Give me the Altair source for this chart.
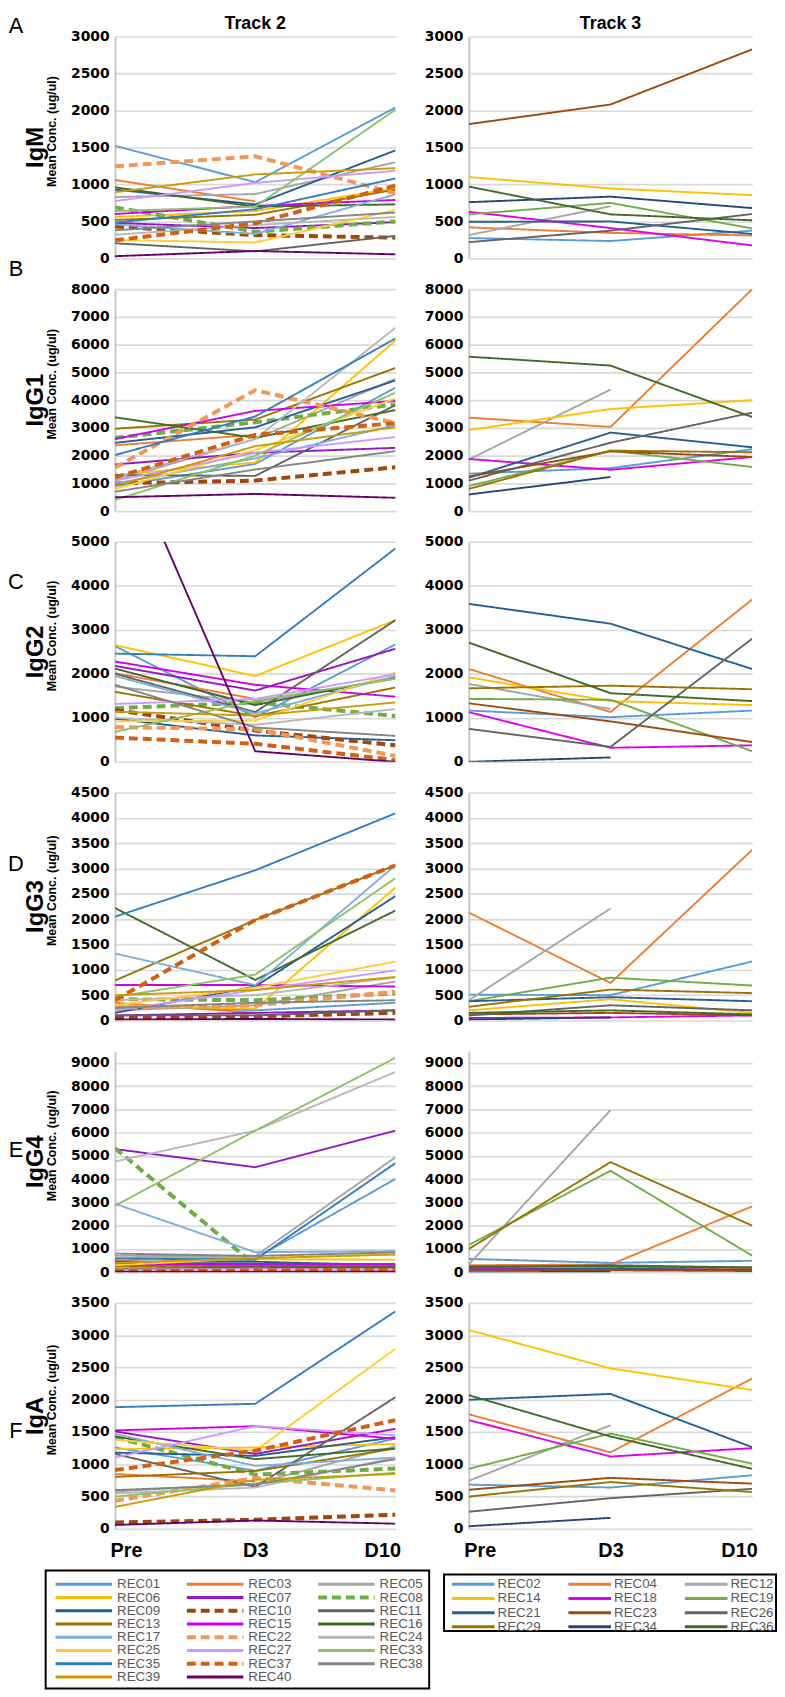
import json
import altair as alt
import pandas as pd

TIMEPOINTS = ["Pre", "D3", "D10"]

TRACK2_IDS = ["REC01", "REC03", "REC05", "REC06", "REC07", "REC08", "REC09", "REC10",
              "REC11", "REC13", "REC15", "REC16", "REC17", "REC22", "REC24", "REC25",
              "REC27", "REC33", "REC35", "REC37", "REC38", "REC39", "REC40"]
TRACK2_COLORS = ["#5B9BD5", "#ED7D31", "#A5A5A5", "#FFC000", "#9412C8", "#70AD47", "#255E91", "#9E480E",
                 "#636363", "#997300", "#CC00EE", "#43682B", "#7CAFDD", "#F1975A", "#B7B7B7", "#FFCD33",
                 "#CC99FF", "#8CC168", "#327DC2", "#D26012", "#848484", "#CC9A06", "#660066"]
TRACK3_IDS = ["REC02", "REC04", "REC12", "REC14", "REC18", "REC19",
              "REC21", "REC23", "REC26", "REC29", "REC34", "REC36"]
TRACK3_COLORS = ["#5B9BD5", "#ED7D31", "#A5A5A5", "#FFC000", "#DD00EE", "#70AD47",
                 "#255E91", "#9E480E", "#636363", "#997300", "#264478", "#43682B"]
DASHED_IDS = ["REC08", "REC10", "REC22", "REC37"]

# values: [Pre, D3, D10]
IGM_T2 = {
    "REC01": [1520, 1030, 2040], "REC03": [1060, 770, None], "REC05": [830, 870, 1300],
    "REC06": [560, 640, 950], "REC07": [480, 410, 490], "REC08": [690, 360, 500],
    "REC09": [930, 730, 1460], "REC10": [430, 315, 280], "REC11": [205, 95, 305],
    "REC13": [520, 590, 930], "REC15": [600, 710, 790], "REC16": [960, 700, 730],
    "REC17": [460, 330, 865], "REC22": [1245, 1380, 880], "REC24": [320, 450, 560],
    "REC25": [250, 215, 655], "REC27": [775, 1020, 1185], "REC33": [640, 700, 2010],
    "REC35": [485, 665, 1080], "REC37": [245, 475, 985], "REC38": [380, 500, 620],
    "REC39": [895, 1135, 1220], "REC40": [30, 100, 55],
}
IGM_T3 = {
    "REC02": [275, 235, 375], "REC04": [420, 345, 310], "REC12": [315, 705, None],
    "REC14": [1100, 945, 855], "REC18": [630, 410, 175], "REC19": [595, 750, 405],
    "REC21": [495, 500, 330], "REC23": [1815, 2080, 2825], "REC26": [220, 375, 600],
    "REC34": [760, 835, 680], "REC36": [970, 595, 515],
}
IGG1_T2 = {
    "REC01": [900, 1700, 4450], "REC03": [2370, 2750, None], "REC05": [1100, 2600, 4770],
    "REC06": [1300, 1750, 6150], "REC07": [1680, 2100, 2280], "REC08": [2640, 3200, 3850],
    "REC09": [2460, 3020, 4710], "REC10": [1000, 1100, 1580], "REC11": [1300, 1270, 3820],
    "REC13": [2970, 3300, 5160], "REC15": [2600, 3610, 3970], "REC16": [3380, 2640, 3640],
    "REC17": [1000, 1900, 3100], "REC22": [1570, 4360, 3170], "REC24": [1200, 2600, 6610],
    "REC25": [800, 2200, 4060], "REC27": [1100, 2100, 2670], "REC33": [400, 2000, 4270],
    "REC35": [2020, 3410, 6220], "REC37": [1210, 2750, 3170], "REC38": [700, 1500, 2160],
    "REC39": [900, 2340, 3020], "REC40": [500, 620, 480],
}
IGG1_T3 = {
    "REC02": [1350, 1550, 2230], "REC04": [3370, 3035, 8000], "REC12": [1860, 4380, None],
    "REC14": [2920, 3680, 4000], "REC18": [1880, 1490, 1950], "REC19": [900, 2180, 1590],
    "REC21": [1200, 2830, 2300], "REC23": [1250, 2150, 1950], "REC26": [1100, 2465, 3550],
    "REC29": [800, 2180, 2120], "REC34": [600, 1230, None], "REC36": [5565, 5245, 3390],
}
IGG2_T2 = {
    "REC01": [2630, 1015, 2670], "REC03": [2015, 1430, None], "REC05": [1710, 1350, 1890],
    "REC06": [2650, 1950, 3220], "REC07": [2180, 1620, 2570], "REC08": [1220, 1350, 1040],
    "REC09": [980, 600, 490], "REC10": [1180, 710, 375], "REC11": [2000, 1130, 3220],
    "REC13": [1590, 1040, 1690], "REC15": [2280, 1750, 1480], "REC16": [2120, 1290, 1920],
    "REC17": [1950, 1100, 1950], "REC22": [790, 740, 135], "REC24": [1000, 840, 1200],
    "REC25": [920, 940, 2030], "REC27": [1315, 1430, 1990], "REC33": [680, 1390, 1890],
    "REC35": [2460, 2400, 4850], "REC37": [550, 410, 40], "REC38": [1750, 780, 590],
    "REC39": [1140, 1050, 1350], "REC40": [7600, 240, 0],
}
IGG2_T3 = {
    "REC02": [1165, 1015, 1165], "REC04": [2110, 1130, 3690], "REC12": [1770, 1200, None],
    "REC14": [1920, 1380, 1290], "REC18": [1130, 320, 375], "REC19": [1430, 1410, 240],
    "REC21": [3590, 3140, 2110], "REC23": [1330, 920, 450], "REC26": [750, 340, 2800],
    "REC29": [1670, 1730, 1650], "REC34": [0, 100, None], "REC36": [2710, 1560, 1380],
}
IGG3_T2 = {
    "REC01": [300, 200, 350], "REC03": [350, 150, None], "REC05": [200, 300, 770],
    "REC06": [300, 230, 2625], "REC07": [100, 150, 200], "REC08": [420, 400, 535],
    "REC09": [150, 670, 2455], "REC10": [50, 80, 150], "REC11": [100, 100, 200],
    "REC13": [790, 1985, 3065], "REC15": [700, 700, 670], "REC16": [2220, 800, 2170],
    "REC17": [1320, 700, 3065], "REC22": [250, 300, 570], "REC24": [400, 500, 850],
    "REC25": [300, 650, 1160], "REC27": [200, 600, 990], "REC33": [465, 905, 2810],
    "REC35": [2050, 2965, 4090], "REC37": [400, 1985, 3065], "REC38": [250, 350, 400],
    "REC39": [500, 600, 860], "REC40": [20, 30, 20],
}
IGG3_T3 = {
    "REC02": [510, 500, 1165], "REC04": [2130, 740, 3370], "REC12": [400, 2210, None],
    "REC14": [200, 420, 150], "REC18": [50, 60, 100], "REC19": [380, 845, 690],
    "REC21": [380, 460, 380], "REC23": [120, 150, 100], "REC26": [100, 300, 200],
    "REC29": [270, 610, 540], "REC34": [20, 60, None], "REC36": [150, 200, 120],
}
IGG4_T2 = {
    "REC01": [600, 600, 4010], "REC03": [500, 300, None], "REC05": [700, 690, 4940],
    "REC06": [400, 550, 540], "REC07": [5290, 4510, 6085], "REC08": [5330, 300, 200],
    "REC09": [450, 450, 300], "REC10": [100, 150, 120], "REC11": [300, 250, 250],
    "REC13": [250, 300, 300], "REC15": [350, 350, 350], "REC16": [150, 200, 200],
    "REC17": [2940, 860, 900], "REC22": [80, 100, 60], "REC24": [4760, 6085, 8610],
    "REC25": [300, 600, 760], "REC27": [100, 150, 100], "REC33": [2860, 6085, 9215],
    "REC35": [585, 540, 4690], "REC37": [50, 80, 100], "REC38": [800, 700, 850],
    "REC39": [400, 600, 760], "REC40": [20, 20, 20],
}
IGG4_T3 = {
    "REC02": [570, 400, 490], "REC04": [300, 330, 2830], "REC12": [330, 6970, None],
    "REC14": [150, 200, 150], "REC18": [150, 150, 100], "REC19": [1170, 4360, 710],
    "REC21": [100, 150, 100], "REC23": [100, 80, 50], "REC26": [200, 300, 200],
    "REC29": [1000, 4730, 2000], "REC34": [0, 10, None], "REC36": [250, 250, 200],
}
IGA_T2 = {
    "REC01": [1260, 900, 1400], "REC03": [850, 735, None], "REC05": [580, 700, 1280],
    "REC06": [1235, 1260, 1315], "REC07": [1510, 1160, 1550], "REC08": [1420, 840, 935],
    "REC09": [1180, 1130, 1420], "REC10": [100, 140, 220], "REC11": [1160, 650, 2040],
    "REC13": [805, 895, 1245], "REC15": [1525, 1590, 1395], "REC16": [1430, 1080, 1245],
    "REC17": [1470, 975, 1105], "REC22": [435, 790, 595], "REC24": [550, 640, 1105],
    "REC25": [1380, 1210, 2790], "REC27": [1105, 1590, 1450], "REC33": [500, 700, 870],
    "REC35": [1885, 1937, 3370], "REC37": [910, 1210, 1685], "REC38": [600, 685, 1080],
    "REC39": [340, 760, 850], "REC40": [60, 130, 80],
}
IGA_T3 = {
    "REC02": [685, 640, 830], "REC04": [1775, 1185, 2330], "REC12": [745, 1605, None],
    "REC14": [3080, 2485, 2150], "REC18": [1685, 1120, 1250], "REC19": [930, 1475, 1010],
    "REC21": [2000, 2090, 1265], "REC23": [605, 790, 700], "REC26": [265, 475, 620],
    "REC29": [500, 725, 570], "REC34": [40, 170, None], "REC36": [2070, 1430, 930],
}

PANEL_LETTERS = ["A", "B", "C", "D", "E", "F"]
ANTIBODIES = ["IgM", "IgG1", "IgG2", "IgG3", "IgG4", "IgA"]
TRACK2_DATA = [IGM_T2, IGG1_T2, IGG2_T2, IGG3_T2, IGG4_T2, IGA_T2]
TRACK3_DATA = [IGM_T3, IGG1_T3, IGG2_T3, IGG3_T3, IGG4_T3, IGA_T3]
Y_MAX = [3000, 8000, 5000, 4500, 9500, 3500]
Y_TICK_MAX = [3000, 8000, 5000, 4500, 9000, 3500]
Y_STEP = [500, 1000, 1000, 500, 1000, 500]

# layout (pixels)
PANEL_H = [224, 224, 222, 230, 223, 228]
LEFT_W, RIGHT_W = 283, 286
LETTER_Y = [-10, -20, 41, 72, 100, 129]

LABEL_FONT = "Liberation Sans"
AXIS_FONT = "DejaVu Sans"

ALL_IDS = TRACK2_IDS + TRACK3_IDS
ALL_COLORS = TRACK2_COLORS + TRACK3_COLORS
DASH_RANGE = [[9, 5] if s in DASHED_IDS else [1, 0] for s in ALL_IDS]


def long_df(data):
    recs = []
    for s, vals in data.items():
        for t, v in enumerate(vals):
            if v is not None:
                recs.append({"series": s, "t": t, "value": v})
    return pd.DataFrame(recs)


def label(text, x, y, size, bold=True, angle=0, baseline="middle"):
    kw = dict(fontSize=size, font=LABEL_FONT, color="black", align="center", baseline=baseline)
    if bold:
        kw["fontWeight"] = "bold"
    if angle:
        kw["angle"] = angle
    return alt.Chart(pd.DataFrame({"k": [0]})).mark_text(**kw).encode(
        text=alt.value(text), x=alt.value(x), y=alt.value(y))


def panel(data, i, width, last_row, left, title):
    h = PANEL_H[i]
    if last_row:
        xaxis = alt.Axis(title=None, values=[0, 1, 2],
                         labelExpr=json.dumps(TIMEPOINTS) + "[datum.value]",
                         ticks=False, tickSize=0, domain=False, grid=False,
                         labelFont=LABEL_FONT, labelFontSize=20, labelFontWeight="bold",
                         labelColor="black", labelFlush=True, labelFlushOffset=5,
                         labelPadding=12)
    else:
        xaxis = None
    yaxis = alt.Axis(title=None, values=list(range(0, Y_TICK_MAX[i] + 1, Y_STEP[i])),
                     format="d",
                     grid=True, gridColor="#d9d9d9", gridWidth=1.6, ticks=False, tickSize=0,
                     domain=True, domainColor="#c8c8c8", domainWidth=2,
                     labelFont=AXIS_FONT, labelFontWeight="bold", labelFontSize=14,
                     labelColor="black", labelPadding=6)
    is_dashed = alt.FieldOneOfPredicate(field="series", oneOf=DASHED_IDS)
    lines = alt.Chart(long_df(data)).mark_line(clip=True, strokeJoin="round").encode(
        x=alt.X("t:Q", scale=alt.Scale(domain=[0, 2], nice=False, zero=False), axis=xaxis),
        y=alt.Y("value:Q", scale=alt.Scale(domain=[0, Y_MAX[i]], nice=False), axis=yaxis),
        color=alt.Color("series:N", scale=alt.Scale(domain=ALL_IDS, range=ALL_COLORS), legend=None),
        strokeDash=alt.StrokeDash("series:N", scale=alt.Scale(domain=ALL_IDS, range=DASH_RANGE), legend=None),
        strokeWidth=alt.condition(is_dashed, alt.value(4), alt.value(1.9)),
        detail="series:N",
        order=alt.Order("t:Q"),
    )
    layers = [lines]
    if title:
        layers.append(label(title, width / 2, -7, 18, baseline="alphabetic"))
    if left:
        layers.append(label(PANEL_LETTERS[i], -100, LETTER_Y[i], 22, bold=False))
        layers.append(label(ANTIBODIES[i], -80, h / 2, 24, angle=270))
        layers.append(label("Mean Conc. (ug/ul)", -64, h / 2 - 16, 12.5, angle=270))
    return alt.layer(*layers).properties(width=width, height=h)


def legend(ids, colors, width, box, x0, col_step, line_len, text_gap, y0, row_step):
    recs = []
    for k, (s, c) in enumerate(zip(ids, colors)):
        col, row = k % 3, k // 3
        xs = x0 + col * col_step
        recs.append({"series": s, "color": c, "xa": xs, "xb": xs + line_len,
                     "xt": xs + line_len + text_gap, "y": y0 + row * row_step,
                     "dashed": s in DASHED_IDS})
    ldf = pd.DataFrame(recs)
    frame = alt.Chart(pd.DataFrame({"k": [0]})).mark_rect(
        fillOpacity=0, stroke="black", strokeWidth=2).encode(
        x=alt.value(box[0]), x2=alt.value(box[1]), y=alt.value(box[2]), y2=alt.value(box[3]))
    base = alt.Chart(ldf)
    enc = dict(x=alt.X("xa:Q", scale=None, axis=None), x2="xb:Q",
               y=alt.Y("y:Q", scale=None, axis=None),
               color=alt.Color("color:N", scale=None, legend=None))
    solid = base.transform_filter("!datum.dashed").mark_rule(strokeWidth=3).encode(**enc)
    dashed = base.transform_filter("datum.dashed").mark_rule(strokeWidth=4, strokeDash=[9, 5]).encode(**enc)
    text = base.mark_text(align="left", baseline="middle", fontSize=13.5, font=LABEL_FONT,
                          color="#595959").encode(
        x=alt.X("xt:Q", scale=None, axis=None), y=alt.Y("y:Q", scale=None, axis=None),
        text="series:N")
    return alt.layer(frame, solid, dashed, text).properties(width=width, height=132)


cells = []
for i in range(6):
    cells.append(panel(TRACK2_DATA[i], i, LEFT_W, i == 5, True, "Track 2" if i == 0 else None))
    cells.append(panel(TRACK3_DATA[i], i, RIGHT_W, i == 5, False, "Track 3" if i == 0 else None))

cells.append(legend(TRACK2_IDS, TRACK2_COLORS, LEFT_W, (-70, 317, 11, 130),
                    -60, 132.5, 57, 5, 25, 13.35))
cells.append(legend(TRACK3_IDS, TRACK3_COLORS, RIGHT_W, (-25, 310, 15, 72),
                    -17, 117.5, 43, 3, 25, 14.3))

chart = alt.concat(*cells, columns=2, spacing={"row": 31, "column": 74},
                   bounds="flush", align="each").properties(padding=0).configure_view(stroke=None)

chart.save("out.html", embed_options={"renderer": "svg", "actions": False})
